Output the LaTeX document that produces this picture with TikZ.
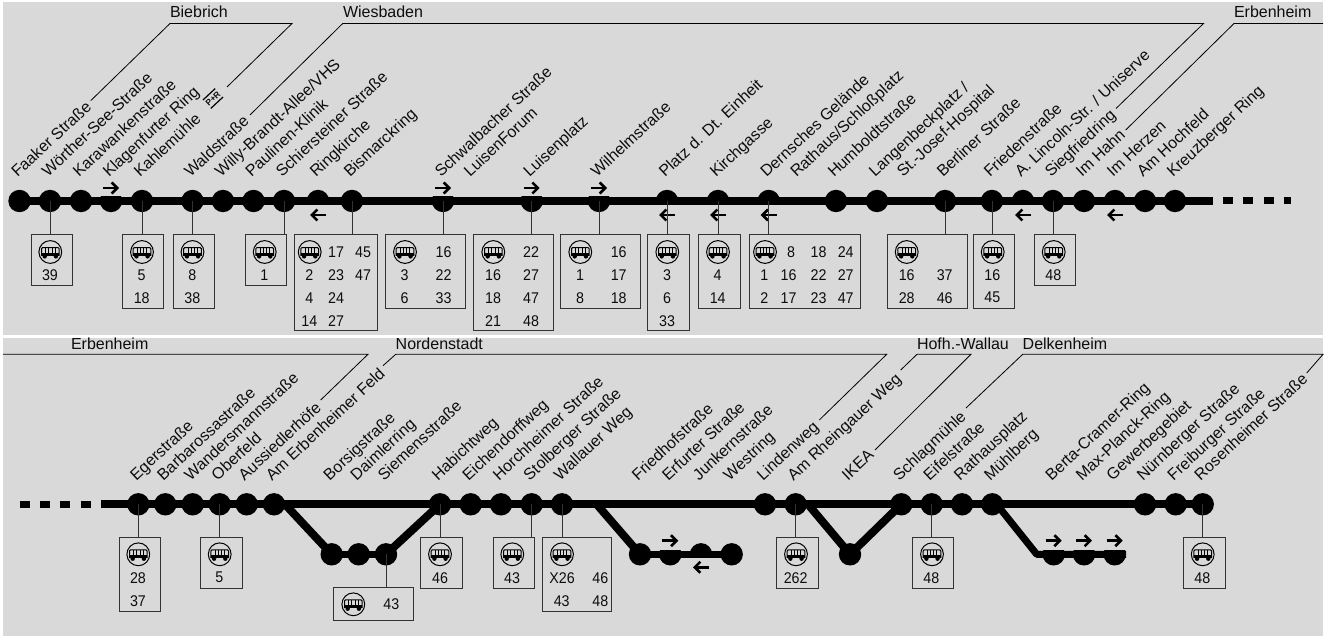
\documentclass[tikz,border=0pt]{standalone}
\usepackage{fontspec}
\setmainfont{Liberation Sans}
\newfontfamily\numfont[FakeStretch=0.92]{Liberation Sans}
\usetikzlibrary{arrows.meta}
\definecolor{panelgrey}{HTML}{D9D9D9}
\definecolor{inkc}{HTML}{0D0D0D}
\definecolor{boxc}{HTML}{333333}
\tikzset{
  stopdot/.style={circle,fill=black,minimum size=22.4pt,inner sep=0pt,outer sep=0pt},
  track/.style={line width=8pt,black,line join=round},
  lowtrack/.style={line width=7pt,black,line join=round},
  stlabel/.style={anchor=base west,rotate=43,inner sep=0pt,outer sep=0pt,text=inkc,font=\fontsize{16}{18}\selectfont},
  regionlabel/.style={anchor=base west,inner sep=0pt,outer sep=0pt,text=inkc,font=\fontsize{16}{18}\selectfont},
  regionline/.style={line width=0.8pt,black,line join=miter},
  stemline/.style={line width=1pt,boxc},
  busbox/.style={draw=boxc,line width=1pt,inner sep=0pt,outer sep=0pt},
  numtext/.style={inner sep=0pt,outer sep=0pt,text=inkc,font=\numfont\fontsize{15.5}{17}\selectfont},
  dirarrow/.style={line width=2.6pt,black,-{Straight Barb[length=5.5pt,width=11pt,line width=2.6pt]}},
  pics/busicon/.style={code={
    \draw[line width=1pt,black] (0,0) circle[radius=11.4];
    \draw[line width=1pt,black,rounded corners=1pt] (-8.8,3.8) -- (-8.8,-4.4) -- (8.8,-4.4) -- (8.8,3.8);
    \fill[black] (-8.8,0.7) rectangle (8.8,3.9);
    \foreach \vx in {-4.6,-1.6,1.6,4.6} \draw[line width=0.8pt,black] (\vx,-4.4) -- (\vx,0.7);
    \fill[black] (-5.6,4.4) circle[radius=2.2];
    \fill[black] (5.6,4.4) circle[radius=2.2];
  }}
}
\newcounter{numc}
\newcommand{\st}[4]{\node[stopdot] (#1) at (#2,#3) {};\node[stlabel] (#1l) at ({#2-2},{#3-23}) {#4};}
% half stop, flat on top (arrow above)
\newcommand{\stB}[4]{\begin{scope}\clip ({#2-12},{#3-4}) rectangle ({#2+12},{#3+12});\node[stopdot] (#1) at (#2,#3) {};\end{scope}\node[stlabel] (#1l) at ({#2-2},{#3-23}) {#4};}
% half stop, flat at the bottom (arrow below)
\newcommand{\stT}[4]{\begin{scope}\clip ({#2-12},{#3-12}) rectangle ({#2+12},{#3+4});\node[stopdot] (#1) at (#2,#3) {};\end{scope}\node[stlabel] (#1l) at ({#2-2},{#3-23}) {#4};}
\newcommand{\rarr}[2][-13]{\draw[dirarrow] ([shift={(-8,#1)}]#2.center) -- ([shift={(8,#1)}]#2.center);}
\newcommand{\larr}[2][14]{\draw[dirarrow] ([shift={(8,#1)}]#2.center) -- ([shift={(-8,#1)}]#2.center);}
\newcommand{\bx}[6]{\node[busbox,minimum width={(#4-#2)*1pt},minimum height={(#5-#3)*1pt}] (#1) at ({(#2+#4)/2},{(#3+#5)/2}) {};\draw[stemline] (#6.center) -- (#6.center |- #1.north);}
\newcommand{\nm}[3]{\stepcounter{numc}\node[numtext] (num\arabic{numc}) at (#1,#2) {#3};}
\begin{document}
\begin{tikzpicture}[x=1pt,y=-1pt]
\useasboundingbox (0,0) rectangle (1332,636);
\fill[white] (0,0) rectangle (1332,636);
\fill[panelgrey] (3,2) rectangle (1323,335);
\fill[panelgrey] (3,338) rectangle (1323,636);

% ---------- upper panel ----------
\def\ya{201}
\st{a1}{19.5}{\ya}{Faaker Straße}
\st{a2}{50}{\ya}{Wörther-See-Straße}
\st{a3}{81}{\ya}{Karawankenstraße}
\stB{a4}{111}{\ya}{Klagenfurter Ring}
\st{a5}{142}{\ya}{Kahlemühle}
\st{a6}{192.5}{\ya}{Waldstraße}
\st{a7}{223}{\ya}{Willy-Brandt-Allee/VHS}
\st{a8}{253.5}{\ya}{Paulinen-Klinik}
\st{a9}{284}{\ya}{Schiersteiner Straße}
\stT{a10}{318}{\ya}{Ringkirche}
\st{a11}{352}{\ya}{Bismarckring}
\stB{a12}{443}{\ya}{Schwalbacher Straße}
\node[stlabel] (a12b) at (470,178) {LuisenForum};
\stB{a13}{531.7}{\ya}{Luisenplatz}
\stB{a14}{599}{\ya}{Wilhelmstraße}
\stT{a15}{667}{\ya}{Platz d. Dt. Einheit}
\stT{a16}{718}{\ya}{Kirchgasse}
\stT{a17}{768.7}{\ya}{Dernsches Gelände}
\node[stlabel] (a17b) at (796.5,178) {Rathaus/Schloßplatz};
\st{a18}{836}{\ya}{Humboldtstraße}
\st{a19}{877}{\ya}{Langenbeckplatz /}
\node[stlabel] (a19b) at (903,178) {St.-Josef-Hospital};
\st{a20}{945}{\ya}{Berliner Straße}
\st{a21}{992}{\ya}{Friedenstraße}
\stT{a22}{1023}{\ya}{A. Lincoln-Str. / Uniserve}
\st{a23}{1053}{\ya}{Siegfriedring}
\st{a24}{1084}{\ya}{Im Hahn}
\stT{a25}{1115}{\ya}{Im Herzen}
\st{a26}{1145}{\ya}{Am Hochfeld}
\st{a27}{1175}{\ya}{Kreuzberger Ring}
\coordinate (aend) at (1213,\ya);
\coordinate (adash1) at (1223,\ya);
\coordinate (adash2) at (1291,\ya);
\draw[track] (a1.center) -- (aend);
\draw[line width=7pt,dash pattern=on 10pt off 10.4pt] (adash1) -- (adash2);
\rarr{a4}\rarr{a12}\rarr{a13}\rarr{a14}
\larr{a10}\larr{a15}\larr{a16}\larr{a17}\larr{a22}\larr{a25}

% P+R
\node[rotate=43,inner sep=0pt,outer sep=0pt,minimum width=16pt,minimum height=11.5pt,font=\bfseries\fontsize{8.5}{9}\selectfont,text=inkc] (pr) at (213,98.5) {P+R};
\draw[line width=1.2pt,black] (pr.north west) -- (pr.north east);
\draw[line width=1.2pt,black] (pr.south west) -- (pr.south east);

% regions upper
\node[regionlabel] (rb) at (170,18) {Biebrich};
\node[regionlabel] (rw) at (343,18) {Wiesbaden};
\node[regionlabel] (re) at (1234,18) {Erbenheim};
\coordinate (b1) at (90.7,100.7); \coordinate (b2) at (170,23.5); \coordinate (b3) at (292,23.5); \coordinate (b4) at (227,87);
\coordinate (w1) at (250,115); \coordinate (w2) at (342.7,23.5); \coordinate (w3) at (1203.5,23.5); \coordinate (w4) at (1116,108.5);
\coordinate (e1) at (1125.7,130); \coordinate (e2) at (1234,23.5); \coordinate (e3) at (1323,23.5);
\draw[regionline] (b1) -- (b2) -- (b3) -- (b4);
\draw[regionline] (w1) -- (w2) -- (w3) -- (w4);
\draw[regionline] (e1) -- (e2) -- (e3);

% boxes upper
\def\ri{252}\def\rii{275}\def\riii{297.7}\def\riv{320.7}
\def\bi{285.3}\def\bii{308}\def\biii{330.7}\def\ta{234.5}
\bx{ba2}{31}{\ta}{72.3}{\bi}{a2}
\pic at (50.3,\ri) {busicon}; \nm{50}{\rii}{39}
\bx{ba5}{122.3}{\ta}{163.7}{\bii}{a5}
\pic at (142,\ri) {busicon}; \nm{141.7}{\rii}{5}\nm{141.7}{\riii}{18}
\bx{ba6}{173.3}{\ta}{214.3}{\bii}{a6}
\pic at (192.5,\ri) {busicon}; \nm{192.3}{\rii}{8}\nm{192.3}{\riii}{38}
\bx{ba9}{245.7}{\ta}{286.7}{\bi}{a9}
\pic at (264.7,\ri) {busicon}; \nm{264.3}{\rii}{1}
\bx{ba11}{294}{\ta}{377.7}{\biii}{a11}
\pic at (309.7,\ri) {busicon};
\nm{336}{\ri}{17}\nm{363}{\ri}{45}\nm{309.3}{\rii}{2}\nm{336}{\rii}{23}\nm{363}{\rii}{47}\nm{309.3}{\riii}{4}\nm{336}{\riii}{24}\nm{309.3}{\riv}{14}\nm{336}{\riv}{27}
\bx{ba12}{385.7}{\ta}{465.3}{\bii}{a12}
\pic at (405,\ri) {busicon};
\nm{443.5}{\ri}{16}\nm{404.5}{\rii}{3}\nm{443.5}{\rii}{22}\nm{404.5}{\riii}{6}\nm{443.5}{\riii}{33}
\bx{ba13}{473.3}{\ta}{553.3}{\biii}{a13}
\pic at (493.3,\ri) {busicon};
\nm{531}{\ri}{22}\nm{493}{\rii}{16}\nm{531}{\rii}{27}\nm{493}{\riii}{18}\nm{531}{\riii}{47}\nm{493}{\riv}{21}\nm{531}{\riv}{48}
\bx{ba14}{560.7}{\ta}{640.7}{\bii}{a14}
\pic at (580.3,\ri) {busicon};
\nm{618.7}{\ri}{16}\nm{580}{\rii}{1}\nm{618.7}{\rii}{17}\nm{580}{\riii}{8}\nm{618.7}{\riii}{18}
\bx{ba15}{647.7}{\ta}{689.3}{\biii}{a15}
\pic at (667.3,\ri) {busicon}; \nm{667}{\rii}{3}\nm{667}{\riii}{6}\nm{667}{\riv}{33}
\bx{ba16}{698.3}{\ta}{740}{\bii}{a16}
\pic at (718,\ri) {busicon}; \nm{717.7}{\rii}{4}\nm{717.7}{\riii}{14}
\bx{ba17}{749.3}{\ta}{860.3}{\bii}{a17}
\pic at (765,\ri) {busicon};
\nm{791}{\ri}{8}\nm{818.5}{\ri}{18}\nm{845.7}{\ri}{24}
\nm{764.3}{\rii}{1}\nm{788.5}{\rii}{16}\nm{818.5}{\rii}{22}\nm{845.7}{\rii}{27}
\nm{764.3}{\riii}{2}\nm{788.5}{\riii}{17}\nm{818.5}{\riii}{23}\nm{845.7}{\riii}{47}
\bx{ba20}{887.3}{\ta}{967.3}{\bii}{a20}
\pic at (906.7,\ri) {busicon};
\nm{906.7}{\rii}{16}\nm{944.7}{\rii}{37}\nm{906.7}{\riii}{28}\nm{944.7}{\riii}{46}
\bx{ba21}{973.3}{\ta}{1014.7}{\bii}{a21}
\pic at (992.7,\ri) {busicon}; \nm{992.3}{\rii}{16}\nm{992.3}{\riii}{45}
\bx{ba23}{1034.3}{\ta}{1075.7}{\bi}{a23}
\pic at (1053.7,\ri) {busicon}; \nm{1053.3}{\rii}{48}

% ---------- lower panel ----------
\def\yb{504.3}\def\yc{554.3}
\st{c1}{138.3}{\yb}{Egerstraße}
\st{c2}{165.3}{\yb}{Barbarossastraße}
\st{c3}{192.7}{\yb}{Wandersmannstraße}
\st{c4}{219.7}{\yb}{Oberfeld}
\st{c5}{246.7}{\yb}{Aussiedlerhöfe}
\st{c6}{274}{\yb}{Am Erbenheimer Feld}
\node[stopdot] (c7) at (331.7,\yc) {}; \node[stlabel] (c7l) at (329.7,481.3) {Borsigstraße};
\node[stopdot] (c8) at (358.7,\yc) {}; \node[stlabel] (c8l) at (356.7,481.3) {Daimlerring};
\node[stopdot] (c9) at (386,\yc) {}; \node[stlabel] (c9l) at (384,481.3) {Siemensstraße};
\st{c10}{440}{\yb}{Habichtweg}
\st{c11}{470.7}{\yb}{Eichendorffweg}
\st{c12}{501}{\yb}{Horchheimer Straße}
\st{c13}{531.7}{\yb}{Stolberger Straße}
\st{c14}{562}{\yb}{Wallauer Weg}
\node[stopdot] (c15) at (640,\yc) {}; \node[stlabel] (c15l) at (638,481.3) {Friedhofstraße};
\begin{scope}\clip (658,550.8) rectangle (683,567);\node[stopdot] (c16) at (670.3,\yc) {};\end{scope}
\node[stlabel] (c16l) at (668.3,481.3) {Erfurter Straße};
\begin{scope}\clip (689,542) rectangle (713,557.8);\node[stopdot] (c17) at (701,\yc) {};\end{scope}
\node[stlabel] (c17l) at (699,481.3) {Junkernstraße};
\node[stopdot] (c18) at (731.7,\yc) {}; \node[stlabel] (c18l) at (729.7,481.3) {Westring};
\st{c19}{765}{\yb}{Lindenweg}
\st{c20}{795.7}{\yb}{Am Rheingauer Weg}
\node[stopdot] (c21) at (850,\yc) {}; \node[stlabel] (c21l) at (848,481.3) {IKEA};
\st{c22}{901.3}{\yb}{Schlagmühle}
\st{c23}{931.7}{\yb}{Eifelstraße}
\st{c24}{962}{\yb}{Rathausplatz}
\st{c25}{992.3}{\yb}{Mühlberg}
\begin{scope}\clip (1040,550.8) rectangle (1130,567);
\node[stopdot] (c26) at (1053.7,\yc) {};
\node[stopdot] (c27) at (1084,\yc) {};
\node[stopdot] (c28) at (1114.7,\yc) {};
\end{scope}
\node[stlabel] (c26l) at (1051.7,481.3) {Berta-Cramer-Ring};
\node[stlabel] (c27l) at (1082,481.3) {Max-Planck-Ring};
\node[stlabel] (c28l) at (1112.7,481.3) {Gewerbegebiet};
\st{c29}{1145}{\yb}{Nürnberger Straße}
\st{c30}{1175.7}{\yb}{Freiburger Straße}
\st{c31}{1202.7}{\yb}{Rosenheimer Straße}
\coordinate (cstart) at (101,\yb);
\coordinate (cdash1) at (20,\yb);
\coordinate (cdash2) at (91,\yb);
\coordinate (j1) at (285,\yb);
\coordinate (j2) at (596.7,\yb);
\coordinate (j3) at (808,\yb);
\coordinate (j4) at (996.7,\yb);
\coordinate (j5) at (1036.7,\yc);
\coordinate (j6) at (1126,\yc);
\draw[track] (cstart) -- (c31.center);
\draw[line width=7pt,dash pattern=on 10pt off 10.2pt] (cdash1) -- (cdash2);
\draw[track] (j1) -- (c7.center);
\draw[lowtrack] (c7.center) -- (c9.center);
\draw[track] (c9.center) -- (c10.center);
\draw[track] (j2) -- (c15.center);
\draw[lowtrack] (c15.center) -- (c18.center);
\draw[track] (j3) -- (c21.center) -- (c22.center);
\draw[lowtrack] (j4) -- (j5) -- (j6);
\rarr[-13.6]{c16}\larr[13]{c17}
\rarr[-13.6]{c26}\rarr[-13.6]{c27}\rarr[-13.6]{c28}

% regions lower
\node[regionlabel] (rf) at (71,349) {Erbenheim};
\node[regionlabel] (rn) at (395.7,349) {Nordenstadt};
\node[regionlabel] (rh) at (917,349) {Hofh.-Wallau};
\node[regionlabel] (rd) at (1022.7,349) {Delkenheim};
\coordinate (f1) at (3,354.3); \coordinate (f2) at (368,354.3); \coordinate (f3) at (320.7,400);
\coordinate (n1) at (383,365.7); \coordinate (n2) at (395.7,354.3); \coordinate (n3) at (886.7,354.3); \coordinate (n4) at (819.3,420);
\coordinate (h1) at (900.7,370); \coordinate (h2) at (917,354.3); \coordinate (h3) at (971,354.3); \coordinate (h4) at (875,450);
\coordinate (d1) at (966,408); \coordinate (d2) at (1022.7,354.3); \coordinate (d3) at (1323,354.3); \coordinate (d4) at (1306.7,373);
\draw[regionline] (f1) -- (f2) -- (f3);
\draw[regionline] (n1) -- (n2) -- (n3) -- (n4);
\draw[regionline] (h1) -- (h2) -- (h3) -- (h4);
\draw[regionline] (d1) -- (d2) -- (d3) -- (d4);

% boxes lower
\def\tb{537.3}\def\rci{554.3}\def\rcii{577.7}\def\rciii{600.7}\def\bci{588.3}\def\bcii{611}
\bx{bc1}{119}{\tb}{160.3}{\bcii}{c1}
\pic at (138.3,\rci) {busicon}; \nm{138}{\rcii}{28}\nm{138}{\rciii}{37}
\bx{bc4}{200.3}{\tb}{242}{\bci}{c4}
\pic at (219.7,\rci) {busicon}; \nm{219.3}{\rcii}{5}
\bx{bc9}{333.7}{587.3}{413.7}{620}{c9}
\pic at (353.3,604.3) {busicon}; \nm{391.3}{604.3}{43}
\bx{bc10}{420.7}{\tb}{462.3}{\bci}{c10}
\pic at (440,\rci) {busicon}; \nm{440}{\rcii}{46}
\bx{bc13}{493}{\tb}{534.7}{\bci}{c13}
\pic at (512.3,\rci) {busicon}; \nm{512}{\rcii}{43}
\bx{bc14}{542.7}{\tb}{611.3}{\bcii}{c14}
\pic at (562,\rci) {busicon};
\nm{562}{\rcii}{X26}\nm{600.3}{\rcii}{46}\nm{561.7}{\rciii}{43}\nm{600.3}{\rciii}{48}
\bx{bc20}{776.7}{\tb}{818.3}{\bci}{c20}
\pic at (796,\rci) {busicon}; \nm{795.7}{\rcii}{262}
\bx{bc23}{912.3}{\tb}{953.7}{\bci}{c23}
\pic at (932,\rci) {busicon}; \nm{931.3}{\rcii}{48}
\bx{bc31}{1183.3}{\tb}{1225}{\bci}{c31}
\pic at (1202.7,\rci) {busicon}; \nm{1202.3}{\rcii}{48}
\end{tikzpicture}
\end{document}
